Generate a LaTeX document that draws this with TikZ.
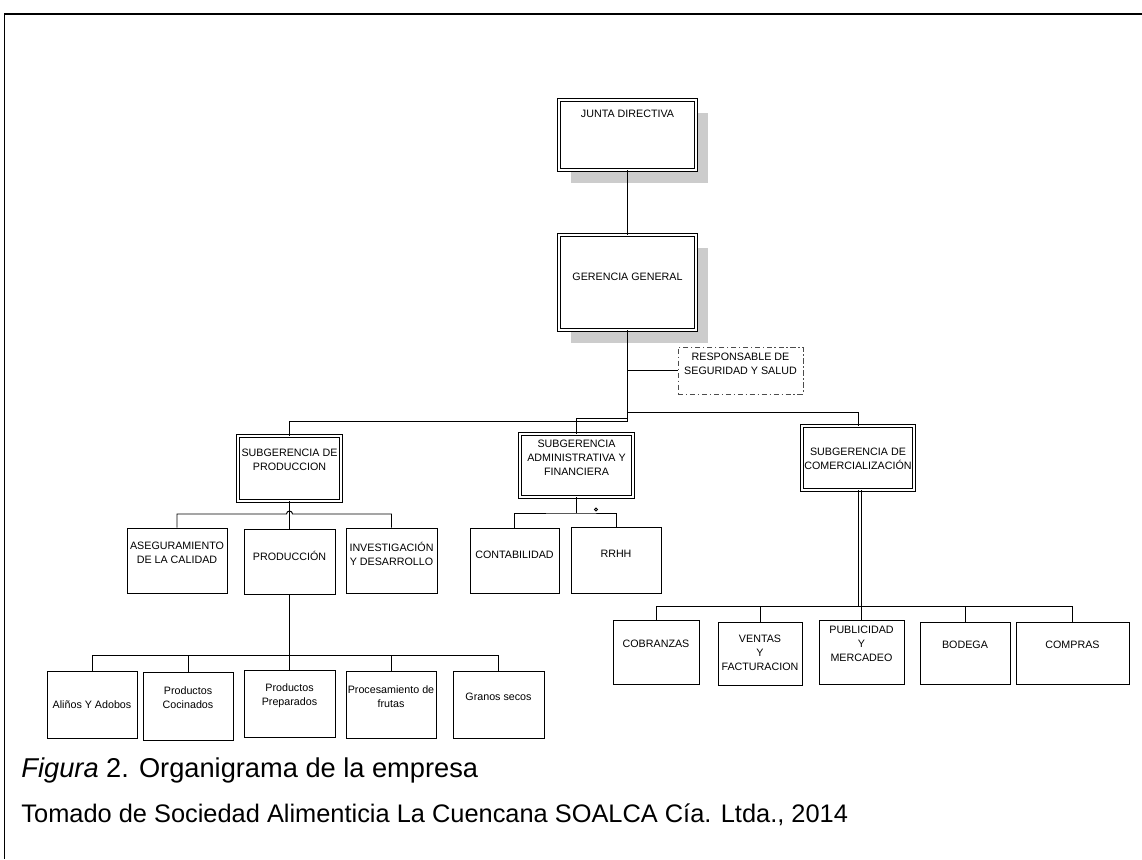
\documentclass[tikz,border=0pt]{standalone}
\usepackage{fontspec}
\setmainfont{Liberation Sans}
\usepackage{tikz}
\usetikzlibrary{positioning,shadows}

\begin{document}
\begin{tikzpicture}[x=0.02cm, y=-0.02cm, line width=0.55pt,
        box/.style={draw, rectangle, inner sep=0pt},
        dbox/.style={box, double, double distance=0.9pt},
        shadowed/.style={fill=white, drop shadow={shadow xshift=0.24cm, shadow yshift=-0.26cm, fill=black!20, opacity=1}},
        dashbox/.style={draw=black!70, dash pattern=on 3pt off 1.5pt on 0.8pt off 1.5pt, inner sep=0pt},
        lbl/.style={align=center, inner sep=0pt, font=\fontsize{6.1}{8}\selectfont},
        figtext/.style={inner sep=0pt, anchor=west, font=\fontsize{14.45}{17}\selectfont}]
        \useasboundingbox (0,0) rectangle (1142,859);
        \draw[line width=1.1pt] (4,14) -- (1142,14);
        \draw (4,14) -- (4,859);

        \node[dbox, shadowed, minimum width=2.74cm, minimum height=1.40cm, label={[lbl, below=0.20cm]north:JUNTA DIRECTIVA}] (1) at (627.5,135) {};
        \node[dbox, shadowed, minimum width=2.74cm, minimum height=1.90cm, label={[lbl, below=0.76cm]north:GERENCIA GENERAL}] (2) at (627.5,282.5) {};
        \node[dashbox, minimum width=2.50cm, minimum height=0.94cm, label={[lbl, below=0.12cm]north:RESPONSABLE DE\\SEGURIDAD Y SALUD}] (3) at (740.5,370.5) {};

        \node[dbox, minimum width=2.06cm, minimum height=1.30cm, label={[lbl, below=0.26cm]north:SUBGERENCIA DE\\PRODUCCION}] (4) at (289.5,468.5) {};
        \node[dbox, minimum width=2.26cm, minimum height=1.26cm, label={[lbl, below=0.12cm]north:SUBGERENCIA\\ADMINISTRATIVA Y\\FINANCIERA}] (5) at (576.5,465.5) {};
        \node[dbox, minimum width=2.24cm, minimum height=1.28cm, label={[lbl, below=0.44cm]north:SUBGERENCIA DE\\COMERCIALIZACIÓN}] (6) at (858,458) {};

        \node[box, minimum width=2.00cm, minimum height=1.30cm, label={[lbl, below=0.28cm]north:ASEGURAMIENTO\\DE LA CALIDAD}] (7) at (177,560.5) {};
        \node[box, minimum width=1.82cm, minimum height=1.30cm, label={[lbl, below=0.44cm]north:PRODUCCIÓN}] (8) at (289.5,561.5) {};
        \node[box, minimum width=1.82cm, minimum height=1.30cm, label={[lbl, below=0.28cm]north:INVESTIGACIÓN\\Y DESARROLLO}] (9) at (391.5,560.5) {};
        \node[box, minimum width=1.78cm, minimum height=1.30cm, label={[lbl, below=0.46cm]north:CONTABILIDAD}] (10) at (514.5,560.5) {};
        \node[box, minimum width=1.80cm, minimum height=1.32cm, label={[lbl, below=0.46cm]north:RRHH}] (11) at (616,560) {};

        \node[box, minimum width=1.72cm, minimum height=1.28cm, label={[lbl, below=0.40cm]north:COBRANZAS}] (12) at (656,652) {};
        \node[box, minimum width=1.68cm, minimum height=1.26cm, label={[lbl, below=0.26cm]north:VENTAS\\Y\\FACTURACION}] (13) at (760,653.5) {};
        \node[box, minimum width=1.70cm, minimum height=1.28cm, label={[lbl, below=0.12cm]north:PUBLICIDAD\\Y\\MERCADEO}] (14) at (861.5,652) {};
        \node[box, minimum width=1.80cm, minimum height=1.24cm, label={[lbl, below=0.38cm]north:BODEGA}] (15) at (965,653) {};
        \node[box, minimum width=2.26cm, minimum height=1.24cm, label={[lbl, below=0.38cm]north:COMPRAS}] (16) at (1072.5,653) {};

        \node[box, minimum width=1.80cm, minimum height=1.34cm, label={[lbl, below=0.60cm]north:Aliños Y Adobos}] (17) at (92,704.5) {};
        \node[box, minimum width=1.80cm, minimum height=1.36cm, label={[lbl, below=0.30cm]north:Productos\\Cocinados}] (18) at (188,706) {};
        \node[box, minimum width=1.82cm, minimum height=1.34cm, label={[lbl, below=0.28cm]north:Productos\\Preparados}] (19) at (289.5,703.5) {};
        \node[box, minimum width=1.80cm, minimum height=1.34cm, label={[lbl, below=0.30cm]north:Procesamiento de\\frutas}] (20) at (391,704.5) {};
        \node[box, minimum width=1.82cm, minimum height=1.34cm, label={[lbl, below=0.44cm]north:Granos secos}] (21) at (498.5,704.5) {};

        \node[figtext, font=\fontsize{15.5}{18}\selectfont] (22) at (21,770) {\textit{Figura} 2. Organigrama de la empresa};
        \node[figtext] (23) at (21,815) {Tomado de Sociedad Alimenticia La Cuencana SOALCA Cía. Ltda., 2014};

        % top levels
        \coordinate (bl) at (627.5,421); \coordinate (ba) at (627.5,418); \coordinate (br) at (627.5,412);
        \draw (1) -- (2);
        \draw (2.south) -- (bl) -| (4.north);
        \draw (5.north) |- (ba);
        \draw (br) -| (6.north);
        \draw (3.west) -- (3.west -| 2.south);

        % produccion
        \coordinate (hp) at (286.5,514);
        \draw (7.north) |- (hp) arc[start angle=180, end angle=0, radius=0.06cm] -| (9.north);
        \draw (4.south) -- (8.north);
        \coordinate (bp) at (289.5,655.5);
        \draw (8.south) -- (19.north);
        \draw (17.north) |- (bp) -| (21.north);
        \draw (18.north) -- (18.north |- bp);
        \draw (20.north) -- (20.north |- bp);

        % administrativa
        \coordinate (bd) at (576.5,513);
        \draw (5.south) -- (bd);
        \draw (10.north) |- (bd) -| (11.north);
        \draw (596,509.5) circle[radius=0.03cm];

        % comercializacion
        \coordinate (bc) at (858,606);
        \draw (6.south) -- (bc);
        \draw (14.north) -- (14.north |- 6.south);
        \draw (12.north) |- (bc) -| (16.north);
        \draw (13.north) -- (13.north |- bc);
        \draw (15.north) -- (15.north |- bc);
\end{tikzpicture}
\end{document}
